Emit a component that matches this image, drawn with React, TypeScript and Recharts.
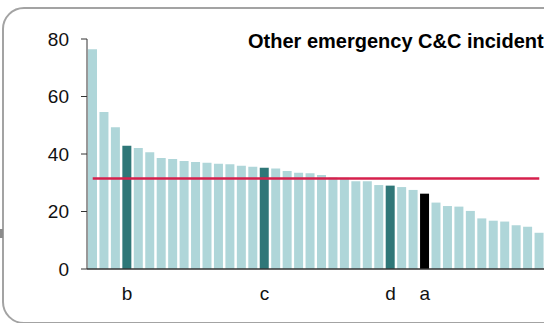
import { ComposedChart, Bar, Cell, Line, XAxis, YAxis } from "recharts";

const values = [
  76.4, 54.6, 49.3, 42.9, 42.1, 40.6, 38.6, 38.3, 37.6, 37.2, 37.0, 36.6, 36.4,
  35.9, 35.6, 35.2, 35.0, 34.1, 33.5, 33.3, 32.7, 31.8, 31.7, 30.5, 30.5, 29.2,
  29.0, 28.5, 27.5, 26.2, 23.1, 21.9, 21.7, 20.2, 17.6, 16.8, 16.5, 15.2, 14.7,
  12.6,
];
const labels: Record<number, string> = { 3: "b", 15: "c", 26: "d", 29: "a" };
const highlighted = { b: "#2f7778", c: "#2f7778", d: "#2f7778", a: "#000000" };
const average = 31.5;
const yTicks = [0, 20, 40, 60, 80];

const data = values.map((v, i) => ({ id: i, value: v, avg: average }));

const FONT = "'Liberation Sans', Arial, sans-serif";

export default function App() {
  return (
    <div
      style={{
        position: "fixed",
        left: 0,
        top: 0,
        width: 544,
        height: 323,
        overflow: "hidden",
        background: "#fff",
        fontFamily: FONT,
      }}
    >
      <div
        style={{
          position: "absolute",
          left: 2,
          top: 7,
          width: 620,
          height: 313,
          border: "2px solid #a3a3a3",
          borderRadius: 22,
        }}
      />
      <div
        style={{
          position: "absolute",
          left: 0,
          top: 229,
          width: 3,
          height: 9,
          background: "#8c8c8c",
        }}
      />
      <div
        style={{
          position: "absolute",
          left: 248,
          top: 30,
          fontSize: 20,
          fontWeight: "bold",
          whiteSpace: "nowrap",
          color: "#000",
        }}
      >
        Other emergency C&amp;C incidents
      </div>
      <div style={{ position: "absolute", left: 0, top: 0 }}>
        <ComposedChart
          width={560}
          height={323}
          data={data}
          margin={{ top: 39, right: 15, bottom: 24, left: 27 }}
          barCategoryGap={1}
        >
          <XAxis
            dataKey="id"
            interval={0}
            tickLine={false}
            tickMargin={12}
            tickFormatter={(i: number) => labels[i] ?? ""}
            axisLine={{ stroke: "#333", strokeWidth: 1.5 }}
            tick={{ fontSize: 19, fill: "#111", fontFamily: FONT }}
          />
          <YAxis
            width={60}
            domain={[0, 80]}
            ticks={yTicks}
            tickSize={6}
            tickMargin={12}
            axisLine={{ stroke: "#333" }}
            tickLine={{ stroke: "#333" }}
            tick={{ fontSize: 19, fill: "#111", fontFamily: FONT }}
          />
          <Bar dataKey="value" isAnimationActive={false}>
            {data.map((d) => {
              const lbl = labels[d.id] as keyof typeof highlighted | undefined;
              return (
                <Cell key={d.id} fill={lbl ? highlighted[lbl] : "#afd6d9"} />
              );
            })}
          </Bar>
          <Line
            dataKey="avg"
            stroke="#d6204c"
            strokeWidth={2.5}
            dot={false}
            activeDot={false}
            isAnimationActive={false}
          />
        </ComposedChart>
      </div>
    </div>
  );
}
